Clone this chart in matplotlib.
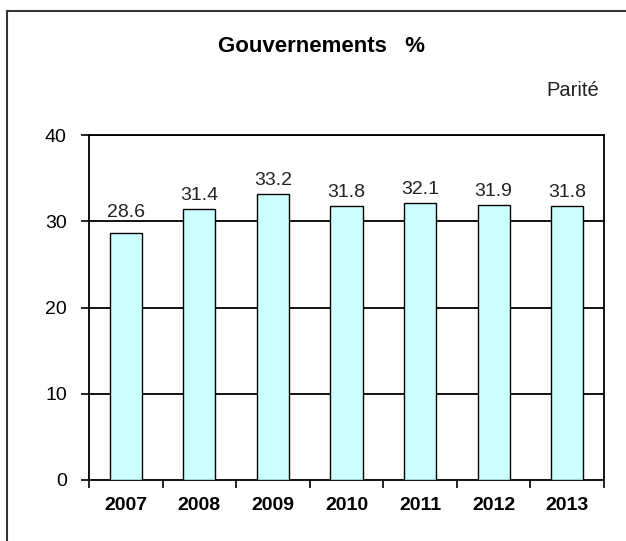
import matplotlib
matplotlib.use('Agg')
from matplotlib import pyplot as plt
from matplotlib.patches import Rectangle

# Données
annees = ['2007', '2008', '2009', '2010', '2011', '2012', '2013']
valeurs = [28.6, 31.4, 33.2, 31.8, 32.1, 31.9, 31.8]
graduations = [0, 10, 20, 30, 40]

plt.rcParams['font.family'] = ['Liberation Sans', 'DejaVu Sans']

fig = plt.figure(figsize=(6.26, 5.41), dpi=100)
ax = fig.add_axes([89 / 626, 1 - 480 / 541, 515 / 626, 345 / 541])

# cadre extérieur
fig.patches.append(Rectangle((7 / 626, -0.05), 1.1, 1 - 11 / 541 + 0.05,
                             transform=fig.transFigure, fill=False,
                             edgecolor='#333333', linewidth=1.5, zorder=0))

x = range(len(annees))
ax.bar(x, valeurs, width=0.435, color='#CCFFFF', edgecolor='black',
       linewidth=1.0, zorder=3)

# étiquettes : au-dessus de la barre, décalées si elles touchent une ligne
for xi, v in zip(x, valeurs):
    base = v + 1.05
    for g in graduations:
        if base - 0.2 < g < base + 1.6:
            base = g + 0.5
    ax.text(xi, base, '%.1f' % v, ha='center', va='baseline',
            fontsize=14, color='#222222', zorder=4)

ax.set_xlim(-0.5, len(annees) - 0.5)
ax.set_ylim(0, 40)
ax.set_yticks(graduations)
ax.set_yticklabels([str(g) for g in graduations], fontsize=14)
for g in graduations[1:]:
    ax.axhline(g, color='black', linewidth=1.3, zorder=1)

# graduations x aux limites des catégories
ax.set_xticks([i - 0.5 for i in range(len(annees) + 1)])
ax.set_xticklabels([])
ax.set_xticks(list(x), minor=True)
ax.set_xticklabels(annees, minor=True, fontsize=14, fontweight='bold')
ax.tick_params(axis='x', which='major', length=6, width=1.2, direction='out')
ax.tick_params(axis='x', which='minor', length=0, pad=12)
ax.tick_params(axis='y', length=6, width=1.2, pad=10)

for s in ax.spines.values():
    s.set_linewidth(1.3)
    s.set_color('black')

fig.text(322 / 626, 1 - 52 / 541, 'Gouvernements   %', ha='center', va='baseline',
         fontsize=16, fontweight='bold')
fig.text(599 / 626, 1 - 96 / 541, 'Parité', ha='right', va='baseline',
         fontsize=14.5, color='#222222')

fig.savefig('out.png', dpi=100)
